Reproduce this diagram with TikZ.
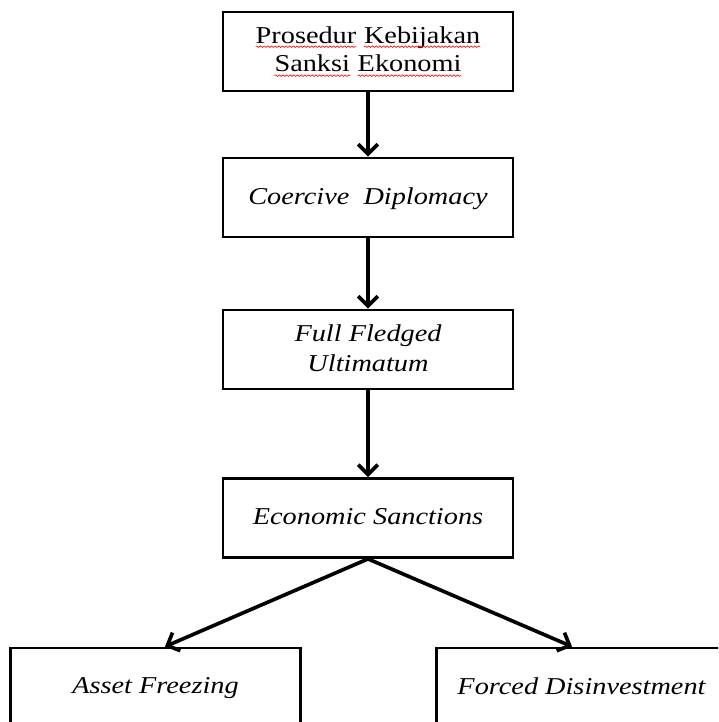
\documentclass[tikz,border=0pt]{standalone}
\usepackage{fontspec}
\setmainfont{Liberation Serif}[FakeStretch=1.17]
\usepackage{tikz}
\usetikzlibrary{arrows.meta, calc, decorations.pathmorphing}
\usepackage{xcolor}
\newcommand\spellwave[1]{\tikz[baseline=(w.base)]{\node[inner sep=0pt,outer sep=0pt,minimum width=0pt,minimum height=0pt,text depth=,text height=,draw=none,fill=none] (w) {#1};
  \draw[red,line width=0.45pt,decorate,decoration={snake,amplitude=0.55pt,segment length=2.6pt}] ($(w.base west)+(0,-2.6pt)$) -- ($(w.base east)+(0,-2.6pt)$);}}
\tikzset{>={Straight Barb[length=7pt,width=14pt]}}
\tikzset{
  stepNode/.style={shape=rectangle,draw=black,line width=2pt,fill=white,align=center,
    minimum width=7.25cm,minimum height=1.975cm,inner sep=2pt,
    font=\fontsize{17.2}{20.6}\selectfont},
  stepNodeIT/.style={stepNode,font=\fontsize{17.2}{21.5}\selectfont\itshape,text depth=0.22em},
  flowLink/.style={draw=black,->,line width=2.6pt}
}
\begin{document}
\begin{tikzpicture}[x=0.025cm,y=-0.025cm]
        \useasboundingbox (0,0) rectangle (718,722);
        \clip (0,0) rectangle (718,722);
        \node (pk) [stepNode] at (368,51.5) {\spellwave{Prosedur} \spellwave{Kebijakan}\\ \spellwave{Sanksi} \spellwave{Ekonomi}};
        \node (cd) [stepNodeIT] at (368,197.5) {Coercive\ \ Diplomacy};
        \node (fu) [stepNodeIT] at (368,349.5) {Full Fledged\\ Ultimatum};
        \node (es) [stepNodeIT] at (368,518) {Economic Sanctions};
        \node[minimum width=7.225cm] (af) [stepNodeIT] at (155.5,687.5) {Asset Freezing};
        \node[minimum width=7.225cm] (fd) [stepNodeIT] at (581.5,687.5) {Forced Disinvestment};

         \path
    (pk) edge [flowLink] (cd)
    (cd) edge [flowLink] (fu)
    (fu) edge [flowLink] (es)
    (es.south) edge [flowLink] ($(af.north)+(9.5,0)$)
    (es.south) edge [flowLink] ($(fd.north)+(-9.5,0)$);

\end{tikzpicture}
\end{document}
